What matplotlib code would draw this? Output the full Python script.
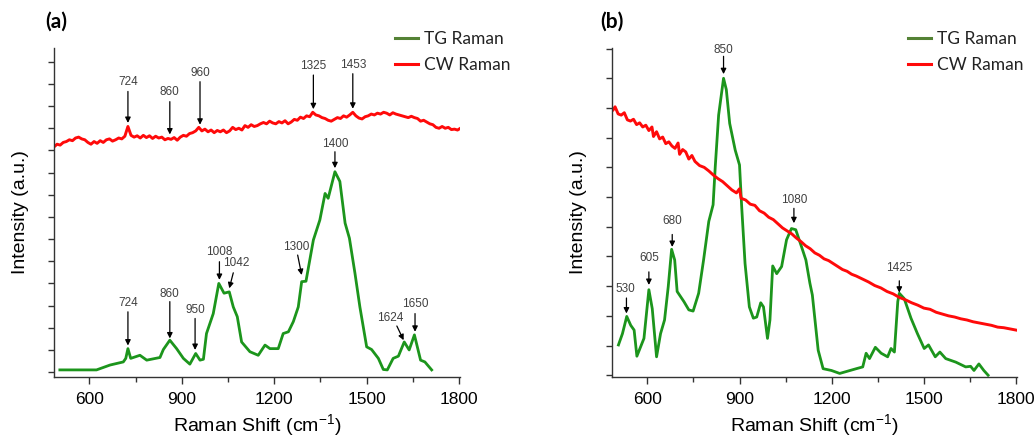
import matplotlib
matplotlib.use('Agg')
import matplotlib.pyplot as plt
from matplotlib.ticker import MultipleLocator, NullFormatter

# ---- panel (a) data ----
tg_a_x = [504, 623, 667, 710, 718, 725, 734, 764, 786, 829, 840, 861, 883, 905, 926,
          945, 959, 970, 980, 1002, 1020, 1037, 1054, 1067, 1080, 1094, 1121, 1148,
          1170, 1186, 1213, 1229, 1246, 1262, 1278, 1289, 1303, 1327, 1348, 1365,
          1375, 1397, 1413, 1430, 1444, 1462, 1478, 1500, 1516, 1538, 1554, 1567,
          1586, 1603, 1622, 1638, 1655, 1675, 1689, 1711]
tg_a_y = [0.05, 0.05, 0.16, 0.23, 0.31, 0.53, 0.31, 0.38, 0.27, 0.33, 0.51, 0.72, 0.53,
          0.31, 0.18, 0.42, 0.27, 0.29, 0.87, 1.32, 2.00, 1.78, 1.81, 1.47, 1.25, 0.68,
          0.46, 0.38, 0.61, 0.53, 0.53, 0.87, 0.91, 1.14, 1.47, 2.04, 2.05, 2.98, 3.43,
          4.03, 3.92, 4.52, 4.30, 3.36, 3.02, 2.23, 1.47, 0.57, 0.51, 0.31, 0.06, 0.05,
          0.31, 0.36, 0.68, 0.50, 0.84, 0.27, 0.23, 0.05]

cw_a_x = [485, 495, 505, 515, 525, 535, 545, 555, 565, 575, 585, 595, 605, 615, 625,
          635, 645, 655, 665, 675, 685, 695, 705, 715, 725, 735, 745, 755, 765, 775,
          785, 795, 805, 815, 825, 835, 845, 855, 865, 875, 885, 895, 905, 915, 925,
          935, 945, 955, 965, 975, 985, 995, 1005, 1015, 1025, 1035, 1045, 1055, 1065,
          1075, 1085, 1095, 1105, 1115, 1125, 1135, 1145, 1155, 1165, 1175, 1185, 1195,
          1205, 1215, 1225, 1235, 1245, 1255, 1265, 1275, 1285, 1295, 1305, 1315, 1325,
          1335, 1345, 1355, 1365, 1375, 1385, 1395, 1405, 1415, 1425, 1435, 1445, 1455,
          1465, 1475, 1485, 1495, 1505, 1515, 1525, 1535, 1545, 1555, 1565, 1575, 1585,
          1595, 1605, 1615, 1625, 1635, 1645, 1655, 1665, 1675, 1685, 1695, 1705, 1715,
          1725, 1735, 1745, 1755, 1765, 1775, 1785, 1795, 1802]
cw_a_y = [5.08, 5.14, 5.12, 5.18, 5.20, 5.24, 5.22, 5.28, 5.30, 5.26, 5.24, 5.18, 5.14,
          5.20, 5.16, 5.22, 5.18, 5.24, 5.26, 5.21, 5.24, 5.28, 5.26, 5.32, 5.54, 5.34,
          5.30, 5.33, 5.28, 5.34, 5.29, 5.33, 5.27, 5.32, 5.28, 5.30, 5.24, 5.27, 5.25,
          5.29, 5.23, 5.30, 5.34, 5.32, 5.38, 5.40, 5.44, 5.52, 5.44, 5.48, 5.42, 5.46,
          5.40, 5.45, 5.42, 5.46, 5.40, 5.44, 5.52, 5.47, 5.50, 5.46, 5.56, 5.52, 5.58,
          5.54, 5.56, 5.60, 5.63, 5.60, 5.66, 5.62, 5.60, 5.65, 5.62, 5.67, 5.60, 5.64,
          5.70, 5.68, 5.75, 5.72, 5.78, 5.76, 5.86, 5.80, 5.78, 5.74, 5.72, 5.68, 5.66,
          5.70, 5.74, 5.72, 5.78, 5.75, 5.80, 5.86, 5.78, 5.73, 5.71, 5.76, 5.78, 5.82,
          5.80, 5.84, 5.82, 5.86, 5.84, 5.80, 5.85, 5.82, 5.80, 5.78, 5.76, 5.74, 5.77,
          5.74, 5.72, 5.66, 5.68, 5.64, 5.60, 5.58, 5.52, 5.50, 5.54, 5.50, 5.52, 5.47,
          5.48, 5.46, 5.49]

tg_a_labels = ['724', '860', '950', '1008', '1042', '1300', '1400', '1624', '1650']
tg_a_text = [(725, 1.55), (861, 1.76), (943, 1.40), (1022, 2.70), (1075, 2.45),
             (1272, 2.83), (1397, 5.15), (1575, 1.23), (1657, 1.53)]
tg_a_tail = [(725, 1.36), (861, 1.59), (943, 1.21), (1022, 2.49), (1067, 2.24),
             (1276, 2.64), (1397, 4.97), (1598, 1.04), (1657, 1.32)]
tg_a_tip = [(725, 0.60), (861, 0.76), (943, 0.50), (1022, 2.08), (1054, 1.89),
            (1289, 2.19), (1397, 4.60), (1620, 0.72), (1657, 0.91)]

cw_a_labels = ['724', '860', '960', '1325', '1453']
cw_a_text = [(725, 6.55), (861, 6.31), (959, 6.74), (1327, 6.91), (1455, 6.93)]
cw_a_tail = [(725, 6.33), (861, 6.10), (959, 6.55), (1327, 6.70), (1455, 6.73)]
cw_a_tip = [(725, 5.62), (861, 5.36), (959, 5.58), (1327, 5.93), (1455, 5.94)]

# ---- panel (b) data ----
tg_b_x = [506, 519, 533, 546, 557, 566, 589, 605, 616, 630, 643, 656, 668, 679, 689,
          697, 719, 735, 749, 767, 783, 800, 814, 821, 832, 848, 857, 868, 886, 900,
          907, 918, 932, 945, 956, 969, 978, 991, 999, 1008, 1021, 1037, 1053, 1069,
          1083, 1102, 1116, 1129, 1137, 1156, 1172, 1199, 1226, 1253, 1280, 1301,
          1312, 1323, 1342, 1361, 1382, 1393, 1404, 1415, 1420, 1436, 1458, 1479,
          1501, 1515, 1537, 1552, 1571, 1604, 1636, 1652, 1663, 1679, 1695, 1709]
tg_b_y = [0.51, 0.70, 0.99, 0.84, 0.76, 0.32, 0.62, 1.44, 1.12, 0.31, 0.70, 0.93, 1.49,
          2.12, 1.94, 1.41, 1.24, 1.10, 1.08, 1.38, 1.94, 2.59, 2.87, 3.51, 4.38, 5.00,
          4.81, 4.24, 3.79, 3.54, 2.84, 1.88, 1.15, 0.96, 0.98, 1.22, 1.15, 0.62, 0.93,
          1.84, 1.71, 1.83, 2.28, 2.47, 2.45, 2.16, 1.94, 1.55, 1.35, 0.42, 0.11, 0.08,
          0.03, 0.07, 0.11, 0.14, 0.37, 0.28, 0.47, 0.37, 0.31, 0.45, 0.39, 1.24, 1.38,
          1.29, 0.96, 0.70, 0.45, 0.51, 0.31, 0.39, 0.28, 0.22, 0.14, 0.15, 0.08, 0.19,
          0.08, 0.00]

cw_b_x = [489, 495, 505, 515, 525, 535, 545, 555, 565, 575, 585, 595, 605, 615, 620,
          630, 640, 650, 660, 670, 680, 690, 700, 705, 715, 725, 735, 745, 755, 770,
          785, 800, 815, 830, 845, 860, 875, 890, 900, 905, 920, 935, 950, 965, 980,
          995, 1010, 1025, 1040, 1055, 1070, 1085, 1100, 1115, 1130, 1145, 1160, 1175,
          1190, 1205, 1220, 1235, 1250, 1265, 1280, 1300, 1320, 1340, 1360, 1380, 1400,
          1420, 1440, 1460, 1480, 1500, 1520, 1540, 1560, 1580, 1600, 1620, 1640, 1660,
          1680, 1700, 1720, 1740, 1760, 1780, 1800]
cw_b_y = [4.47, 4.52, 4.40, 4.38, 4.42, 4.30, 4.28, 4.31, 4.22, 4.25, 4.18, 4.21, 4.12,
          4.18, 4.02, 4.10, 3.98, 4.01, 3.90, 3.93, 3.86, 3.82, 3.91, 3.72, 3.80, 3.76,
          3.64, 3.70, 3.60, 3.53, 3.50, 3.44, 3.37, 3.31, 3.26, 3.19, 3.12, 3.07, 3.14,
          2.98, 2.95, 2.88, 2.86, 2.77, 2.73, 2.66, 2.62, 2.55, 2.48, 2.43, 2.38, 2.31,
          2.25, 2.18, 2.13, 2.06, 2.02, 1.96, 1.93, 1.88, 1.83, 1.78, 1.75, 1.70, 1.67,
          1.62, 1.57, 1.51, 1.47, 1.41, 1.37, 1.31, 1.27, 1.22, 1.18, 1.13, 1.11, 1.06,
          1.03, 1.00, 0.98, 0.95, 0.93, 0.90, 0.88, 0.86, 0.84, 0.81, 0.80, 0.78, 0.76]

tg_b_labels = ['530', '605', '680', '850', '1080', '1425']
tg_b_text = [(530, 1.46), (605, 1.98), (681, 2.59), (848, 5.48), (1077, 2.95), (1420, 1.81)]
tg_b_tail = [(532, 1.30), (605, 1.74), (681, 2.37), (848, 5.37), (1077, 2.81), (1420, 1.59)]
tg_b_tip = [(532, 1.04), (605, 1.52), (681, 2.16), (848, 5.07), (1077, 2.56), (1420, 1.39)]

green = '#1c951c'
red = '#ff0a0a'
label_font = 'Liberation Sans'

fig = plt.figure(figsize=(10.36, 4.41), dpi=100)
ax_a = fig.add_axes([54 / 1036, 1 - 377 / 441, 406 / 1036, 329 / 441])
ax_b = fig.add_axes([612 / 1036, 1 - 377 / 441, 405 / 1036, 329 / 441])


def style_axes(ax, ylim):
    ax.set_xlim(485, 1803)
    ax.set_ylim(*ylim)
    for s in ['top', 'right']:
        ax.spines[s].set_visible(False)
    for s in ['left', 'bottom']:
        ax.spines[s].set_color('#333333')
        ax.spines[s].set_linewidth(1.0)
    ax.xaxis.set_major_locator(MultipleLocator(300))
    ax.xaxis.set_minor_locator(MultipleLocator(150))
    ax.yaxis.set_major_locator(MultipleLocator(1))
    ax.yaxis.set_minor_locator(MultipleLocator(0.5))
    ax.yaxis.set_major_formatter(NullFormatter())
    ax.tick_params(axis='x', which='major', length=5, width=1, color='#333333',
                   labelsize=12.5, pad=6)
    ax.tick_params(axis='x', which='minor', length=3.5, width=1, color='#333333')
    ax.tick_params(axis='y', which='both', length=4.5, width=1, color='#333333')
    for lab in ax.get_xticklabels():
        lab.set_fontfamily(label_font)
    ax.set_xlabel('Raman Shift (cm$^{\\mathregular{-1}}$)', fontsize=14,
                  family=label_font, labelpad=4)
    ax.set_ylabel('Intensity (a.u.)', fontsize=14, family=label_font, labelpad=10)


def add_arrows(ax, labels, texts, tails, tips):
    for lab, t, a, b in zip(labels, texts, tails, tips):
        ax.text(t[0], t[1], lab, ha='center', va='center', fontsize=8.5,
                color='#404040', family=label_font)
        ax.annotate('', xy=b, xytext=a,
                    arrowprops=dict(arrowstyle='-|>', color='black', lw=0.9,
                                    mutation_scale=8, shrinkA=0, shrinkB=0))


# panel (a)
ax_a.plot(tg_a_x, tg_a_y, color=green, lw=2.0, label='TG Raman')
ax_a.plot(cw_a_x, cw_a_y, color=red, lw=2.1, label='CW Raman')
style_axes(ax_a, (-0.11, 7.31))
add_arrows(ax_a, tg_a_labels, tg_a_text, tg_a_tail, tg_a_tip)
add_arrows(ax_a, cw_a_labels, cw_a_text, cw_a_tail, cw_a_tip)

# panel (b)
ax_b.plot(tg_b_x, tg_b_y, color=green, lw=2.0, label='TG Raman')
ax_b.plot(cw_b_x, cw_b_y, color=red, lw=2.1, label='CW Raman')
style_axes(ax_b, (-0.03, 5.51))
add_arrows(ax_b, tg_b_labels, tg_b_text, tg_b_tail, tg_b_tip)

for ax, x0 in [(ax_a, 395), (ax_b, 908)]:
    leg = ax.legend(loc='upper left', bbox_to_anchor=(x0 / 1036, 1 - 31 / 441),
                    bbox_transform=fig.transFigure, frameon=False, borderpad=0,
                    borderaxespad=0, handlelength=1.35, handletextpad=0.3,
                    labelspacing=0.6, prop={'family': 'Lato', 'size': 12.5})
    leg.get_lines()[0].set_color('#548235')
    for ln in leg.get_lines():
        ln.set_linewidth(2.2)
    for txt in leg.get_texts():
        txt.set_color('#222222')

fig.text(56 / 1036, 1 - 22 / 441, '(a)', ha='center', va='center', fontsize=15,
         fontweight='bold', family='Lato')
fig.text(612 / 1036, 1 - 22 / 441, '(b)', ha='center', va='center', fontsize=15,
         fontweight='bold', family='Lato')

fig.savefig('out.png', dpi=100)
